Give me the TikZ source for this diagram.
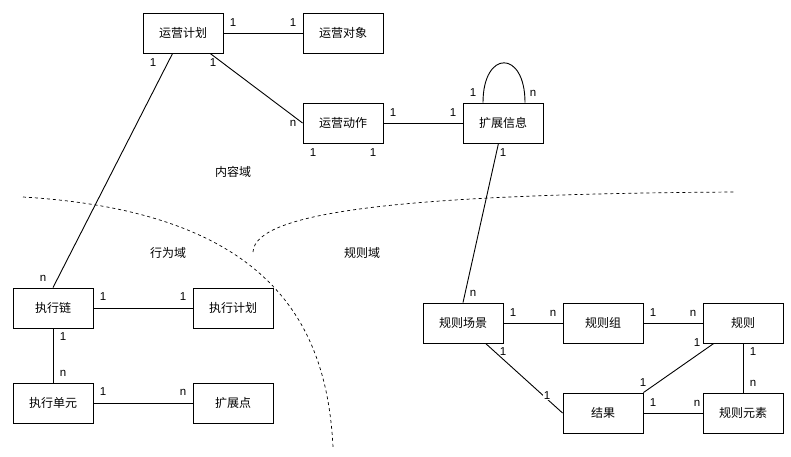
\documentclass[tikz,border=0pt]{standalone}
\usepackage{fontspec}
\setmainfont{Liberation Sans}
\newfontfamily\cjk{Noto Sans CJK SC}

\begin{document}
\begin{tikzpicture}[x=1pt,y=-1pt,line width=0.9pt,
    ent/.style={draw,minimum width=80pt,minimum height=40pt,inner sep=0pt,font=\cjk\fontsize{12}{14}\selectfont},
    card/.style={inner sep=1pt,font=\fontsize{11.5}{13}\selectfont},
    area/.style={font=\cjk\fontsize{12}{14}\selectfont}]

  \useasboundingbox (0,0) rectangle (791,456);

  % domain borders
  \draw[dashed,dash pattern=on 3pt off 3pt,line width=0.7pt] (23,197) .. controls (273,212) and (327,327) .. (333,447);
  \draw[dashed,dash pattern=on 3pt off 3pt,line width=0.7pt] (253,252) .. controls (255,212) and (400,194) .. (735,192);

  \node[area] (nr) at (233,172) {内容域};
  \node[area] (xw) at (168,253) {行为域};
  \node[area] (gz) at (362,253) {规则域};

  % entities
  \node[ent] (jh) at (183,33) {运营计划};
  \node[ent] (dx) at (343,33) {运营对象};
  \node[ent] (dz) at (343,123) {运营动作};
  \node[ent] (kz) at (503,123) {扩展信息};

  \node[ent] (zxl) at (53,308) {执行链};
  \node[ent] (zjh) at (233,308) {执行计划};
  \node[ent] (zdy) at (53,403) {执行单元};
  \node[ent] (kzd) at (233,403) {扩展点};

  \node[ent] (cj) at (463,323) {规则场景};
  \node[ent] (gzz) at (603,323) {规则组};
  \node[ent] (gzr) at (743,323) {规则};
  \node[ent] (jg) at (603,413) {结果};
  \node[ent] (ys) at (743,413) {规则元素};

  % relations
  \draw (jh) -- (dx);
  \draw (jh) -- (dz.west);
  \draw (dz) -- (kz);
  \draw ([xshift=-20pt]kz.north) .. controls +(0,-53) and +(0,-53) .. ([xshift=22pt]kz.north);
  \draw (jh) -- (zxl.north);
  \draw (kz) -- (cj.north);

  \draw (zxl) -- (zjh);
  \draw (zxl) -- (zdy);
  \draw (zdy) -- (kzd);

  \draw (cj) -- (gzz);
  \draw (gzz) -- (gzr);
  \draw (cj) -- (jg.west);
  \draw (gzr) -- (jg.north east);
  \draw (gzr) -- (ys);
  \draw (jg) -- (ys);

  % cardinalities
  \foreach \x/\y/\t [count=\i] in {233/23/1, 293/23/1, 153/63/1, 213/63/1,
      473/93/1, 533/93/n, 293/123/n, 393/113/1, 453/113/1,
      313/153/1, 373/153/1, 503/153/1,
      43/278/n, 103/297/1, 183/297/1, 63/337/1, 63/373/n,
      103/392/1, 183/392/n,
      473/293/n, 513/313/1, 553/313/n, 653/313/1, 693/313/n,
      697/343/1, 503/352/1, 753/352/1, 753/383/n, 643/383/1,
      653/403/1, 697/403/n}
    \node[card] (c\i) at (\x,\y) {\t};
  \node[card,fill=white,inner sep=0.5pt] (cjg) at (547,396) {1};

\end{tikzpicture}
\end{document}
